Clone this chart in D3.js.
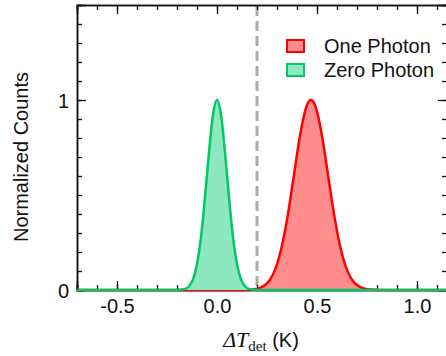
<!DOCTYPE html>
<html>
<head>
<meta charset="utf-8">
<script src="https://cdn.jsdelivr.net/npm/d3@7/dist/d3.min.js"></script>
<style>
  body { margin: 0; background: #fff; }
  svg { display: block; }
  text { font-family: "Liberation Sans", Arial, sans-serif; fill: #111; }
</style>
</head>
<body>
<div id="chart"></div>
<script>
// values
const seriesNames = ["One Photon", "Zero Photon"];

const zeroPhotonX = [-0.7, -0.2, -0.16, -0.14, -0.12, -0.10, -0.08, -0.06, -0.04, -0.02, 0,
  0.02, 0.04, 0.06, 0.08, 0.10, 0.12, 0.14, 0.16, 0.2, 1.15];
const zeroPhotonY = [0, 0, 0.006, 0.02, 0.056, 0.135, 0.278, 0.487, 0.726, 0.923, 1,
  0.923, 0.726, 0.487, 0.278, 0.135, 0.056, 0.02, 0.006, 0, 0];

const onePhotonX = [-0.7, 0.13, 0.17, 0.19, 0.21, 0.23, 0.25, 0.27, 0.29, 0.31, 0.33, 0.35, 0.37, 0.39,
  0.41, 0.43, 0.45, 0.47, 0.49, 0.51, 0.53, 0.55, 0.57, 0.59, 0.61, 0.63, 0.65, 0.67, 0.69,
  0.71, 0.73, 0.75, 0.77, 0.81, 1.15];
const onePhotonY = [0, 0, 0.002, 0.004, 0.009, 0.019, 0.035, 0.063, 0.106, 0.170, 0.258, 0.369, 0.501, 0.642,
  0.780, 0.895, 0.973, 1, 0.973, 0.895, 0.780, 0.642, 0.501, 0.369, 0.258, 0.170, 0.106, 0.063, 0.035,
  0.019, 0.009, 0.004, 0.002, 0, 0];

const thresholdX = 0.2;

const xTickValues = [-0.5, 0.0, 0.5, 1.0];
const xTickLabels = ["-0.5", "0.0", "0.5", "1.0"];
const yTickValues = [0, 1];
const yTickLabels = ["0", "1"];

const width = 446, height = 356;
const margin = { top: 5, right: -1, bottom: 66, left: 77 };
const innerW = width - margin.left - margin.right;
const innerH = height - margin.top - margin.bottom;

const colors = {
  "One Photon": { stroke: "#ff0000", fill: "#ff8c8c" },
  "Zero Photon": { stroke: "#00c864", fill: "#8de8bf" }
};

const svg = d3.select("#chart").append("svg")
  .attr("width", width)
  .attr("height", height);

const g = svg.append("g")
  .attr("transform", `translate(${margin.left},${margin.top})`);

const x = d3.scaleLinear().domain([-0.7, 1.15]).range([0, innerW]);
const y = d3.scaleLinear().domain([0, 1.5]).range([innerH, 0]);

const series = [
  { name: "One Photon", points: onePhotonX.map((v, i) => [v, onePhotonY[i]]) },
  { name: "Zero Photon", points: zeroPhotonX.map((v, i) => [v, zeroPhotonY[i]]) }
];

const area = d3.area()
  .curve(d3.curveMonotoneX)
  .x(d => x(d[0]))
  .y0(y(0))
  .y1(d => y(d[1]));

const line = d3.line()
  .curve(d3.curveMonotoneX)
  .x(d => x(d[0]))
  .y(d => y(d[1]));

// dashed threshold
g.append("line")
  .attr("x1", x(thresholdX)).attr("x2", x(thresholdX))
  .attr("y1", 1).attr("y2", innerH)
  .attr("stroke", "#acacac")
  .attr("stroke-width", 3)
  .attr("stroke-dasharray", "10,5");

// axes (ticks inward, mirrored)
const minorX = d3.range(-7, 12).map(i => i / 10);
const minorY = d3.range(0, 16).map(i => i / 10);

function drawAxis(axisFn, scale, transform, minor, major, labels) {
  const minorAxis = axisFn(scale).tickValues(minor).tickSize(5).tickFormat("");
  const majorAxis = axisFn(scale).tickValues(major).tickSize(9)
    .tickFormat((d, i) => labels ? labels[i] : "");
  const m = g.append("g").attr("transform", transform).call(minorAxis);
  const M = g.append("g").attr("transform", transform).call(majorAxis);
  [m, M].forEach(s => {
    s.select(".domain").attr("stroke", "#111").attr("stroke-width", 1.5);
    s.selectAll(".tick line").attr("stroke", "#111").attr("stroke-width", 1.3);
  });
  M.selectAll("text").style("font-size", "20px").attr("fill", "#111");
  return M;
}

// bottom: ticks pointing up
const bottom = drawAxis(d3.axisTop, x, `translate(0,${innerH})`, minorX, xTickValues, xTickLabels);
bottom.selectAll("text").attr("y", 0).attr("dy", "23px");
// top
drawAxis(d3.axisBottom, x, "translate(0,0)", minorX, xTickValues, null);
// left: ticks pointing right
const left = drawAxis(d3.axisRight, y, "translate(0,0)", minorY, yTickValues, yTickLabels);
left.selectAll("text").attr("x", -8).attr("dy", "0.35em").attr("text-anchor", "end");
// right
drawAxis(d3.axisLeft, y, `translate(${innerW},0)`, minorY, yTickValues, null);

// series
series.forEach(s => {
  g.append("path")
    .datum(s.points)
    .attr("d", area)
    .attr("fill", colors[s.name].fill);
  g.append("path")
    .datum(s.points)
    .attr("d", line)
    .attr("fill", "none")
    .attr("stroke", colors[s.name].stroke)
    .attr("stroke-width", 2.5);
});

// legend
const legend = g.append("g").attr("transform", "translate(210,35)");
seriesNames.forEach((name, i) => {
  const row = legend.append("g").attr("transform", `translate(0,${i * 24})`);
  row.append("rect")
    .attr("x", 0).attr("y", 0)
    .attr("width", 17).attr("height", 12)
    .attr("fill", colors[name].fill)
    .attr("stroke", colors[name].stroke)
    .attr("stroke-width", 2);
  row.append("text")
    .attr("x", 37).attr("y", 13)
    .style("font-size", "20px")
    .text(name);
});

// axis titles
svg.append("text")
  .attr("transform", `translate(28,${margin.top + y(0.7)}) rotate(-90)`)
  .attr("text-anchor", "middle")
  .style("font-size", "20px")
  .text("Normalized Counts");

const xt = svg.append("text")
  .attr("x", 261).attr("y", 347)
  .attr("text-anchor", "middle")
  .style("font-size", "20px");
xt.append("tspan")
  .style("font-family", "'Liberation Serif', 'DejaVu Serif', serif")
  .style("font-style", "italic")
  .style("font-size", "22px")
  .text("\u0394T");
xt.append("tspan")
  .attr("dy", 4)
  .style("font-family", "'Liberation Serif', 'DejaVu Serif', serif")
  .style("font-size", "15px")
  .text("det");
xt.append("tspan")
  .attr("dy", -4)
  .text("\u00a0(K)");
</script>
</body>
</html>
